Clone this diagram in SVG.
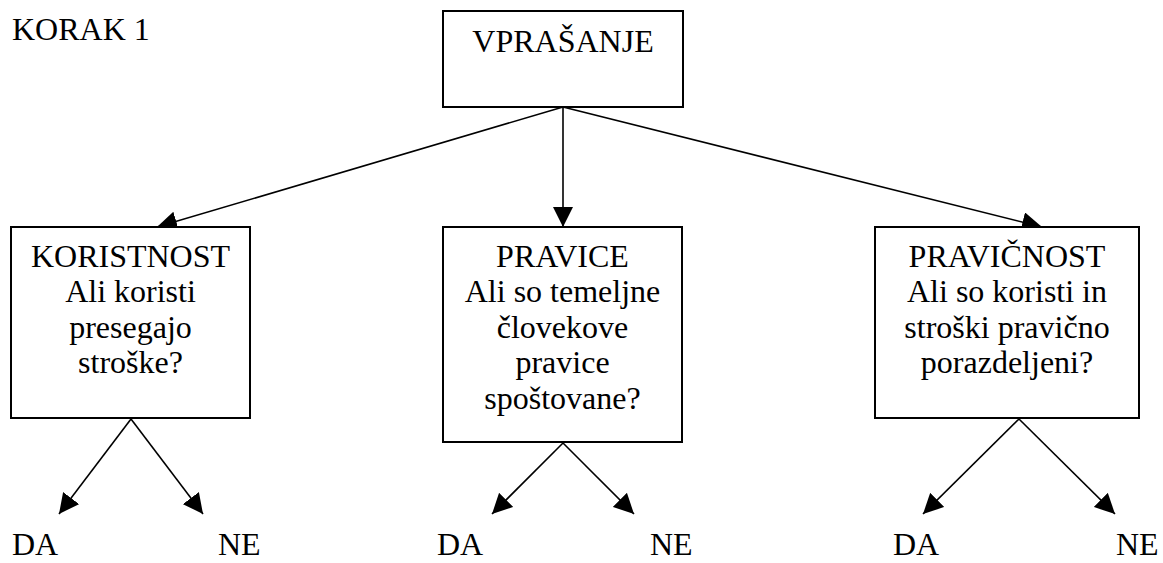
<svg xmlns="http://www.w3.org/2000/svg" width="1163" height="563" viewBox="0 0 1163 563">
<style>
text{font-family:"Liberation Serif","Times New Roman",serif;font-size:32px;fill:#000}
.c{text-anchor:middle}
.box{fill:#fff;stroke:#000;stroke-width:2}
.ln{stroke:#000;stroke-width:1.6;fill:none;marker-end:url(#ah)}
</style>
<defs>
<marker id="ah" markerUnits="userSpaceOnUse" markerWidth="20" markerHeight="20" refX="20" refY="10" orient="auto" viewBox="0 0 20 20">
<path d="M0,0 L20,10 L0,20 z" fill="#000"/>
</marker>
</defs>
<rect width="1163" height="563" fill="#fff"/>
<text id="korak" x="12" y="40">KORAK 1</text>
<g id="connectors">
<line class="ln" x1="563" y1="107" x2="157" y2="227"/>
<line class="ln" x1="563" y1="107" x2="563" y2="227"/>
<line class="ln" x1="563" y1="107" x2="1042" y2="227"/>
<line class="ln" x1="131" y1="419" x2="59" y2="514"/>
<line class="ln" x1="131" y1="419" x2="203" y2="514"/>
<line class="ln" x1="563" y1="443" x2="492" y2="514"/>
<line class="ln" x1="563" y1="443" x2="634" y2="514"/>
<line class="ln" x1="1019" y1="419" x2="923" y2="514"/>
<line class="ln" x1="1019" y1="419" x2="1115" y2="514"/>
</g>
<g id="vprasanje">
<rect class="box" x="443" y="11" width="240" height="96"/>
<text class="c" x="563" y="52">VPRAŠANJE</text>
</g>
<g id="koristnost">
<rect class="box" x="11" y="227" width="239" height="191"/>
<text class="c" x="130.5" y="266.5">KORISTNOST</text>
<text class="c" x="130.5" y="302">Ali koristi</text>
<text class="c" x="130.5" y="337.5">presegajo</text>
<text class="c" x="130.5" y="373">stroške?</text>
</g>
<g id="pravice">
<rect class="box" x="443" y="227" width="239" height="215"/>
<text class="c" x="562.5" y="266.5">PRAVICE</text>
<text class="c" x="562.5" y="302">Ali so temeljne</text>
<text class="c" x="562.5" y="337.5">človekove</text>
<text class="c" x="562.5" y="373">pravice</text>
<text class="c" x="562.5" y="409">spoštovane?</text>
</g>
<g id="pravicnost">
<rect class="box" x="875" y="227" width="264" height="191"/>
<text class="c" x="1007" y="266.5">PRAVIČNOST</text>
<text class="c" x="1007" y="302">Ali so koristi in</text>
<text class="c" x="1007" y="337.5">stroški pravično</text>
<text class="c" x="1007" y="373">porazdeljeni?</text>
</g>
<g id="odgovori">
<text x="12" y="555">DA</text>
<text x="218" y="555">NE</text>
<text x="437" y="555">DA</text>
<text x="650" y="555">NE</text>
<text x="893" y="555">DA</text>
<text x="1116" y="555">NE</text>
</g>
</svg>
